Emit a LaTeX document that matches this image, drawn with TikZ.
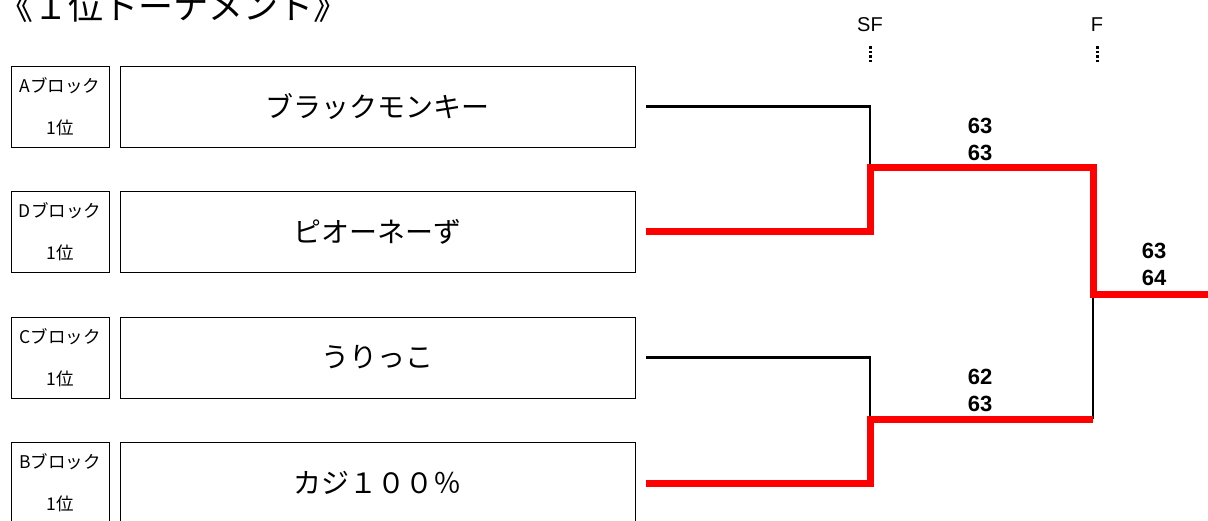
\documentclass[tikz,border=0pt]{standalone}
\usepackage{fontspec}
\setmainfont{Noto Sans CJK JP}
\newfontfamily\numfont{Liberation Sans}
\usetikzlibrary{positioning,calc}
\definecolor{winred}{HTML}{FF0000}
\tikzset{
  blockbox/.style={draw,line width=0.8pt,minimum width=98pt,minimum height=81pt,inner sep=0pt,align=center,font=\fontsize{17.5}{42}\selectfont},
  teambox/.style={draw,line width=0.8pt,minimum width=515pt,minimum height=81pt,inner sep=0pt,font=\fontsize{28}{30}\selectfont},
  lose/.style={line width=2.4pt},
  win/.style={line width=7pt,winred,line join=miter},
  score/.style={font=\numfont\bfseries\fontsize{22}{27}\selectfont,align=center,inner sep=0pt},
  round/.style={font=\numfont\fontsize{20}{20}\selectfont,inner sep=0pt},
  tick/.style={line width=3pt,dash pattern=on 2.5pt off 2pt},
}
\begin{document}
\begin{tikzpicture}[x=1pt,y=-1pt]
\useasboundingbox (0,0) rectangle (1208,521);
\node[anchor=west,inner sep=0pt,font=\fontsize{35}{35}\selectfont] (title) at (-2,6) {《１位トーナメント》};
% entries
\foreach \i/\blk/\team in {0/A/ブラックモンキー,1/D/ピオーネーず,2/C/うりっこ,3/B/カジ１００％}{
    \pgfmathsetmacro{\yy}{106.5+125.5*\i}
    \node[blockbox] (b\blk) at (60,\yy) {\blk ブロック\\1位};
    \node[teambox] (t\blk) at (377.5,\yy) {\team};
}
% rounds
\node[round] (sf) at (870,25) {SF};
\node[round] (fi) at (1097,25) {F};
\draw[tick] ($(sf.south)+(0,14)$) -- ++(0,17);
\draw[tick] ($(fi.south)+(0,14)$) -- ++(0,17);
\coordinate (sf1) at (870,168);
\coordinate (sf2) at (870,419);
\coordinate (fin) at (1093,295);
\coordinate (champ) at (1208,295);
% bracket
\draw[lose] ([xshift=11pt]tA.east) -| (sf1);
\draw[lose] ([xshift=11pt]tC.east) -| (sf2);
\draw[lose] (fin) -- (fin |- sf2);
\draw[win] ([xshift=11pt]tD.east) -| (sf1) -| (fin) -- (champ);
\draw[win] ([xshift=11pt]tB.east) -| (sf2) -- (sf2 -| fin);
% scores
\node[score] (s1) at (980,139.5) {63\\63};
\node[score] (s2) at (980,390) {62\\63};
\node[score] (s3) at (1154,264.5) {63\\64};
\end{tikzpicture}
\end{document}
